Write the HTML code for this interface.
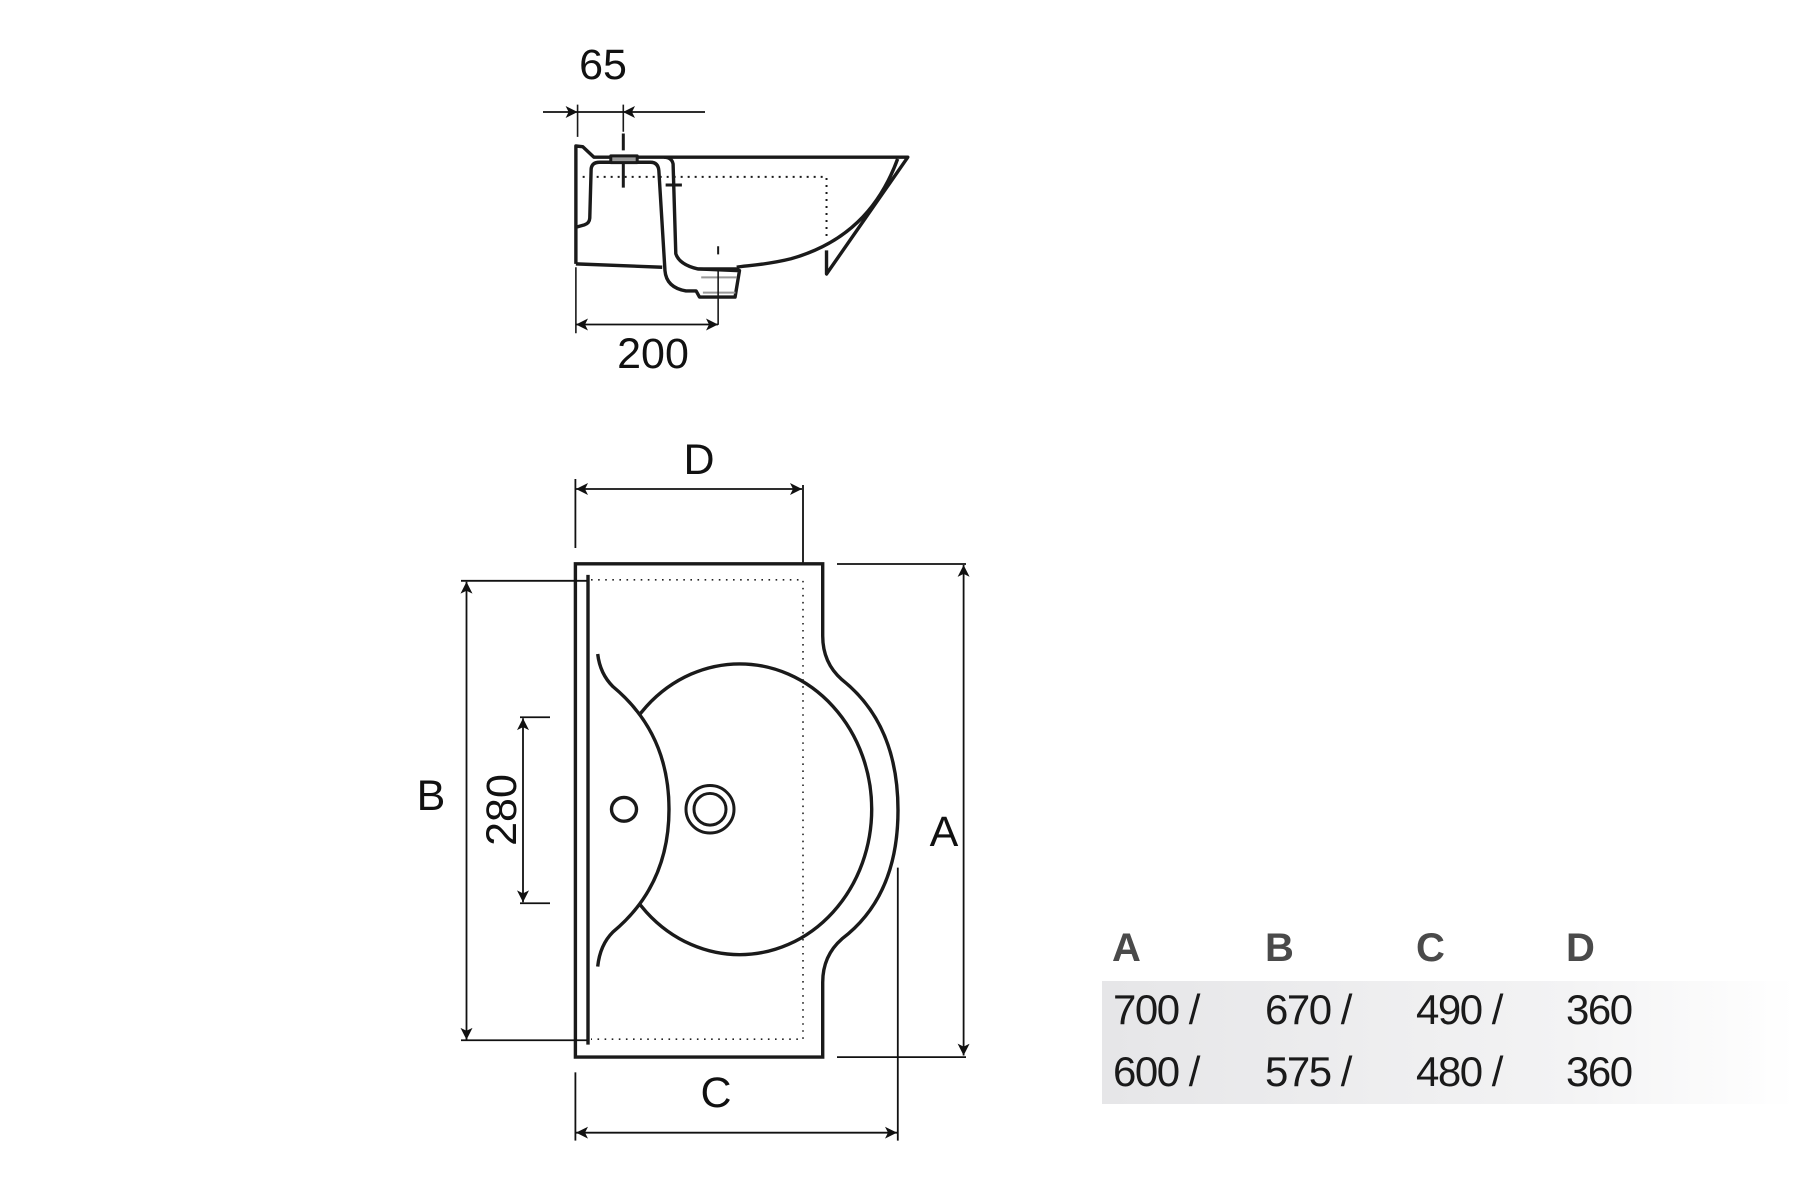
<!DOCTYPE html>
<html><head><meta charset="utf-8"><style>
html,body{margin:0;padding:0;background:#fff;}
svg{display:block;}
text{font-family:"Liberation Sans",sans-serif;}
</style></head><body>
<svg width="1817" height="1179" viewBox="0 0 1817 1179" xmlns="http://www.w3.org/2000/svg">
<defs>
<linearGradient id="g" x1="0" x2="1" y1="0" y2="0">
<stop offset="0" stop-color="#e6e6e8"/><stop offset="0.65" stop-color="#f3f3f4"/><stop offset="0.97" stop-color="#fff"/>
</linearGradient>
<marker id="ar" viewBox="0 0 10 10" refX="10" refY="5" markerWidth="26" markerHeight="12" markerUnits="userSpaceOnUse" orient="auto-start-reverse"><path d="M0,0 L10,5 L0,10 L2.5,5 Z" fill="#111"/></marker>
</defs>

<!-- SIDE VIEW -->
<g transform="translate(520,20) scale(0.3387)" fill="none" stroke="#1a1a1a" stroke-linejoin="round">
<path vector-effect="non-scaling-stroke" stroke-width="3.4" d="M165,720 L165,372 L185,374 L218,405 L1145,405 L905,750 L905,680"/>
<path vector-effect="non-scaling-stroke" stroke-width="3.4" d="M165,720 L420,730"/>
<path vector-effect="non-scaling-stroke" stroke-width="3.4" d="M1115,410 C1060,560 960,660 800,705 C720,725 660,725 640,730"/>
<path vector-effect="non-scaling-stroke" stroke-width="3.4" d="M165,612 L190,605 Q205,600 206,585 L210,440 Q212,420 235,420 L385,420 Q408,420 410,445 L428,740 Q432,790 490,800 L520,800 L530,818 L635,818 L648,740 L525,735 Q470,722 460,690 L452,425 Q448,405 425,405"/>
<path vector-effect="non-scaling-stroke" stroke-width="3.4" d="M525,735 L648,735"/>
<rect x="268" y="401" width="78" height="20" fill="#999" stroke="#1a1a1a" stroke-width="3" vector-effect="non-scaling-stroke"/>
<path d="M535,760 L640,760 M540,805 L636,805" stroke="#999" stroke-width="2" vector-effect="non-scaling-stroke"/>
<path d="M185,463 L905,463 L905,650" stroke-width="2" stroke-dasharray="2,5" vector-effect="non-scaling-stroke"/>
<path d="M430,487 L478,487" stroke-width="3" vector-effect="non-scaling-stroke"/>
<path d="M585,668 L585,692" stroke-width="2" vector-effect="non-scaling-stroke"/>
<path d="M305,335 L305,385 M305,420 L305,495" stroke-width="3" vector-effect="non-scaling-stroke"/>
<path d="M585,740 L585,900" stroke-width="1.6" vector-effect="non-scaling-stroke"/>
<path d="M170,250 L170,345 M305,250 L305,330 M165,730 L165,925" stroke-width="1.6" vector-effect="non-scaling-stroke"/>
</g>
<line x1="543" y1="112" x2="577.6" y2="112" stroke="#111" stroke-width="1.8" marker-end="url(#ar)"/>
<line x1="705" y1="112" x2="623" y2="112" stroke="#111" stroke-width="1.8" marker-end="url(#ar)"/>
<line x1="577.6" y1="112" x2="623" y2="112" stroke="#111" stroke-width="1.8"/>
<text x="603" y="79" font-size="43" text-anchor="middle" fill="#111">65</text>
<line x1="576" y1="324.5" x2="718" y2="324.5" stroke="#111" stroke-width="1.8" marker-start="url(#ar)" marker-end="url(#ar)"/>
<text x="653" y="368" font-size="43" text-anchor="middle" fill="#111">200</text>

<!-- PLAN VIEW top dim -->
<g stroke="#111" stroke-width="1.8" fill="none">
<line x1="575.4" y1="479" x2="575.4" y2="548"/>
<line x1="803" y1="485" x2="803" y2="565"/>
<line x1="576" y1="489" x2="802" y2="489" marker-start="url(#ar)" marker-end="url(#ar)"/>
</g>
<text x="699" y="474" font-size="43" text-anchor="middle" fill="#111">D</text>

<g transform="translate(0,564) scale(1,0.989) translate(0,-564)">
<g fill="none" stroke="#1a1a1a" stroke-width="3.4">
<path d="M822.7,636.7 L822.7,563.8 L575.4,563.8 L575.4,1062.6 L822.7,1062.6 L822.7,987 Q822.7,960 842,943 Q898,900 898,813 Q898,726 842,681 Q822.7,664 822.7,636.7"/>
<line x1="588" y1="575" x2="588" y2="1050"/>
<ellipse cx="739.7" cy="812" rx="132" ry="147"/>
<path d="M597.7,655 Q600,675 613,688 Q669,735 669,812 Q669,889 613,936 Q600,949 597.7,971" fill="#fff"/>
<ellipse cx="624" cy="812" rx="12.5" ry="12"/>
<circle cx="710" cy="812" r="24" stroke-width="3"/>
<circle cx="710" cy="812" r="16" stroke-width="3"/>
</g>
<path d="M591,580 L803,580 L803,1044.5 L591,1044.5" fill="none" stroke="#222" stroke-width="1.6" stroke-dasharray="1.6,5.5"/>
<g stroke="#111" stroke-width="1.8" fill="none">
<line x1="837" y1="564" x2="966" y2="564"/>
<line x1="837" y1="1062.6" x2="966" y2="1062.6"/>
<line x1="461" y1="581" x2="587" y2="581"/>
<line x1="461" y1="1045.5" x2="587" y2="1045.5"/>
<line x1="520" y1="719" x2="550" y2="719"/>
<line x1="520" y1="907" x2="550" y2="907"/>
<line x1="575.4" y1="1078" x2="575.4" y2="1147"/>
<line x1="897.8" y1="871" x2="897.8" y2="1147"/>
<line x1="963.6" y1="565" x2="963.6" y2="1061" marker-start="url(#ar)" marker-end="url(#ar)"/>
<line x1="466.5" y1="582" x2="466.5" y2="1045" marker-start="url(#ar)" marker-end="url(#ar)"/>
<line x1="523" y1="720" x2="523" y2="906" marker-start="url(#ar)" marker-end="url(#ar)"/>
<line x1="576" y1="1139" x2="897" y2="1139" marker-start="url(#ar)" marker-end="url(#ar)"/>
</g>
</g>
<g fill="#111" font-size="43" text-anchor="middle">
<text x="944" y="846">A</text>
<text x="431" y="810">B</text>
<text x="716" y="1107">C</text>
<text transform="translate(516,810) rotate(-90)" x="0" y="0">280</text>
</g>

<!-- TABLE -->
<rect x="1102" y="981" width="715" height="123" fill="url(#g)"/>
<g font-size="40" font-weight="bold" fill="#4a4a4a">
<text x="1112" y="961">A</text><text x="1265" y="961">B</text><text x="1416" y="961">C</text><text x="1566" y="961">D</text>
</g>
<g font-size="42" fill="#1a1a1a" letter-spacing="-1.5">
<text x="1113" y="1024">700 /</text><text x="1265" y="1024">670 /</text><text x="1416" y="1024">490 /</text><text x="1566" y="1024">360</text>
<text x="1113" y="1086">600 /</text><text x="1265" y="1086">575 /</text><text x="1416" y="1086">480 /</text><text x="1566" y="1086">360</text>
</g>
</svg>
</body></html>
